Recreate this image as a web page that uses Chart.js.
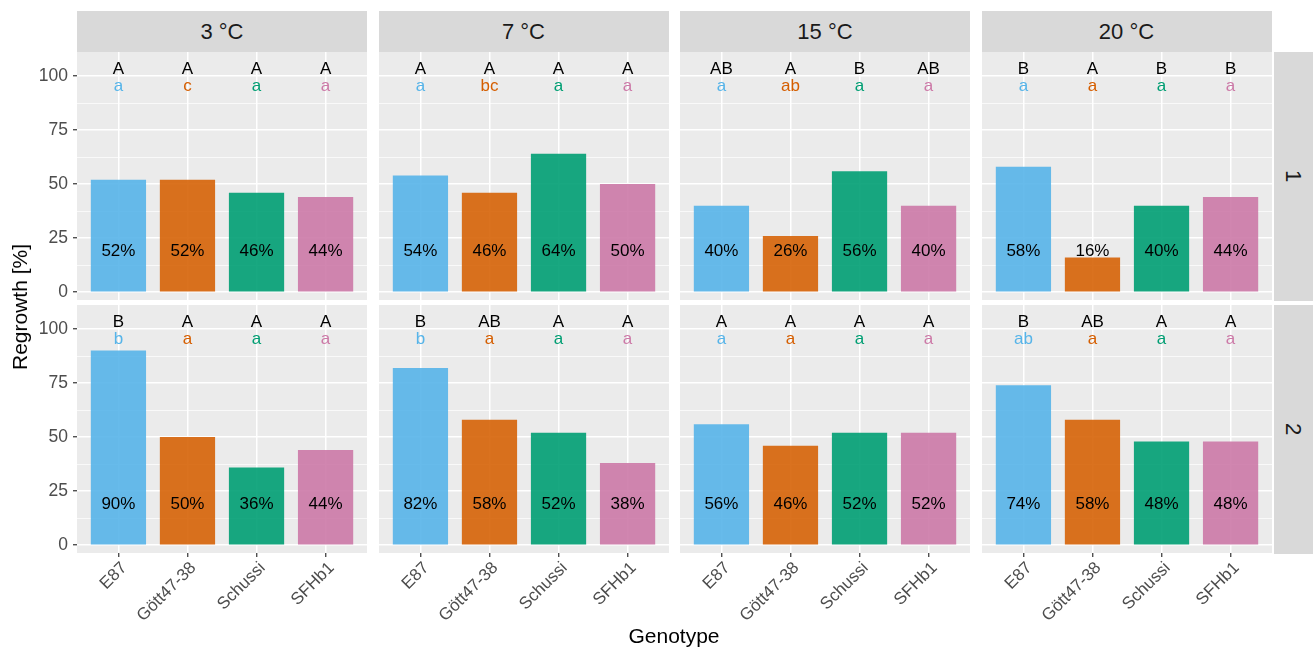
<!DOCTYPE html>
<html>
<head>
<meta charset="utf-8">
<script src="https://cdn.jsdelivr.net/npm/chart.js@4.4.0/dist/chart.umd.min.js"></script>
<style>
  body { margin: 0; background: #fff; width: 1313px; height: 653px; position: relative; overflow: hidden;
         font-family: "Liberation Sans", Arial, sans-serif; }
  canvas { position: absolute; }
  .strip { position: absolute; background: #D9D9D9; color: #1A1A1A; font-size: 22px;
           display: flex; align-items: center; justify-content: center; }
  .strip span.rot { transform: rotate(90deg); display: inline-block; }
  .title { position: absolute; color: #000; font-size: 21px; white-space: nowrap; }
</style>
</head>
<body>
<script>
// ---- data ----
const genotypes = ['E87', 'Gött47-38', 'Schussi', 'SFHb1'];
const temps = ['3 °C', '7 °C', '15 °C', '20 °C'];
const reps = ['1', '2'];

// regrowth [%] per temperature, one array per replicate row
const regrowthRep1 = [
  [52, 52, 46, 44],
  [54, 46, 64, 50],
  [40, 26, 56, 40],
  [58, 16, 40, 44]
];
const regrowthRep2 = [
  [90, 50, 36, 44],
  [82, 58, 52, 38],
  [56, 46, 52, 52],
  [74, 58, 48, 48]
];

// significance letters (upper: between temperatures, lower: between genotypes)
const upperRep1 = [['A','A','A','A'], ['A','A','A','A'], ['AB','A','B','AB'], ['B','A','B','B']];
const lowerRep1 = [['a','c','a','a'], ['a','bc','a','a'], ['a','ab','a','a'], ['a','a','a','a']];
const upperRep2 = [['B','A','A','A'], ['B','AB','A','A'], ['A','A','A','A'], ['B','AB','A','A']];
const lowerRep2 = [['b','a','a','a'], ['b','a','a','a'], ['a','a','a','a'], ['ab','a','a','a']];

const yTicks = [0, 25, 50, 75, 100];
const yMinor = [12.5, 37.5, 62.5, 87.5];

// ---- styling / layout ----
const colors = ['#56B4E9', '#D55E00', '#009E73', '#CC79A7'];
const fills = ['rgba(86,180,233,0.9)', 'rgba(213,94,0,0.88)', 'rgba(0,158,115,0.9)', 'rgba(204,121,167,0.9)'];
const FONT = '"Liberation Sans", Arial, sans-serif';

const PX = [77, 378.5, 680, 981.5];
const PW = 290;
const PY = [52, 305];
const PH = 248.5;
const AXIS_W = 77;
const AXIS_H = 100;

const bgPlugin = {
  id: 'panelBg',
  beforeDraw(chart) {
    const a = chart.chartArea, c = chart.ctx;
    c.save();
    c.fillStyle = '#EBEBEB';
    c.fillRect(a.left, a.top, a.right - a.left, a.bottom - a.top);
    c.restore();
  }
};

const labelPlugin = {
  id: 'barLabels',
  afterDatasetsDraw(chart) {
    const o = chart.options.plugins.barLabels;
    const c = chart.ctx, xs = chart.scales.x, ys = chart.scales.y;
    c.save();
    c.textAlign = 'center';
    c.textBaseline = 'middle';
    c.font = '17px ' + FONT;
    o.values.forEach((v, i) => {
      const x = xs.getPixelForValue(i + 1);
      c.fillStyle = '#000';
      c.fillText(v + '%', x, ys.getPixelForValue(19));
      c.fillText(o.upper[i], x, ys.getPixelForValue(103));
      c.fillStyle = colors[i];
      c.fillText(o.lower[i], x, ys.getPixelForValue(95));
    });
    c.restore();
  }
};

function makePanel(row, col) {
  const values = (row === 0 ? regrowthRep1 : regrowthRep2)[col];
  const upper = (row === 0 ? upperRep1 : upperRep2)[col];
  const lower = (row === 0 ? lowerRep1 : lowerRep2)[col];
  const left = col === 0 ? AXIS_W : 0;
  const bottom = row === 1 ? AXIS_H : 0;

  const cv = document.createElement('canvas');
  cv.width = PW + left;
  cv.height = PH + bottom;
  cv.style.left = (PX[col] - left) + 'px';
  cv.style.top = PY[row] + 'px';
  document.body.appendChild(cv);

  new Chart(cv, {
    type: 'bar',
    data: {
      datasets: [{
        data: values.map((v, i) => ({ x: i + 1, y: v })),
        backgroundColor: fills,
        borderWidth: 0,
        categoryPercentage: 1,
        barPercentage: 0.8
      }]
    },
    options: {
      responsive: false,
      animation: false,
      layout: { padding: 0 },
      plugins: {
        legend: { display: false },
        tooltip: { enabled: false },
        barLabels: { values: values, upper: upper, lower: lower }
      },
      scales: {
        x: {
          type: 'linear',
          offset: false,
          min: 0.4,
          max: 4.6,
          afterBuildTicks: s => { s.ticks = genotypes.map((g, i) => ({ value: i + 1 })); },
          afterFit: s => { s.height = bottom; s.paddingLeft = 0; s.paddingRight = 0; },
          border: { display: false },
          grid: { offset: false, color: '#fff', lineWidth: 1.5, drawTicks: row === 1, tickLength: 4,
                  tickColor: '#333', tickWidth: 1.2 },
          ticks: {
            display: row === 1,
            autoSkip: false,
            minRotation: 45,
            maxRotation: 45,
            padding: 1,
            labelOffset: 6,
            color: '#4D4D4D',
            font: { size: 17, family: FONT },
            callback: v => genotypes[Math.round(v) - 1]
          }
        },
        y: {
          min: -3.6,
          max: 111.1,
          afterBuildTicks: s => {
            s.ticks = yTicks.concat(yMinor).sort((a, b) => a - b).map(v => ({ value: v }));
          },
          afterFit: s => { s.width = left; s.paddingTop = 0; s.paddingBottom = 0; },
          border: { display: false },
          grid: {
            color: '#fff',
            lineWidth: ctx => (yTicks.includes(ctx.tick.value) ? 1.5 : 0.7),
            drawTicks: col === 0,
            tickLength: 4,
            tickWidth: 1.2,
            tickColor: ctx => (yTicks.includes(ctx.tick.value) ? '#333' : 'rgba(0,0,0,0)')
          },
          ticks: {
            display: col === 0,
            autoSkip: false,
            padding: 5,
            color: '#4D4D4D',
            font: { size: 17.5, family: FONT },
            callback: v => (yTicks.includes(v) ? v : '')
          }
        }
      }
    },
    plugins: [bgPlugin, labelPlugin]
  });
}

function addDiv(cls, html, style) {
  const d = document.createElement('div');
  d.className = cls;
  d.innerHTML = html;
  Object.assign(d.style, style);
  document.body.appendChild(d);
}

temps.forEach((t, c) => {
  addDiv('strip', t, { left: PX[c] + 'px', top: '11px', width: PW + 'px', height: '41px' });
});
reps.forEach((r, i) => {
  addDiv('strip', '<span class="rot">' + r + '</span>',
    { left: '1274px', top: PY[i] + 'px', width: '39px', height: PH + 'px' });
});

for (let r = 0; r < 2; r++) {
  for (let c = 0; c < 4; c++) makePanel(r, c);
}

addDiv('title', 'Regrowth [%]', { left: '20px', top: '307px', transform: 'translate(-50%,-50%) rotate(-90deg)' });
addDiv('title', 'Genotype', { left: '674px', top: '636px', transform: 'translate(-50%,-50%)' });
</script>
</body>
</html>
